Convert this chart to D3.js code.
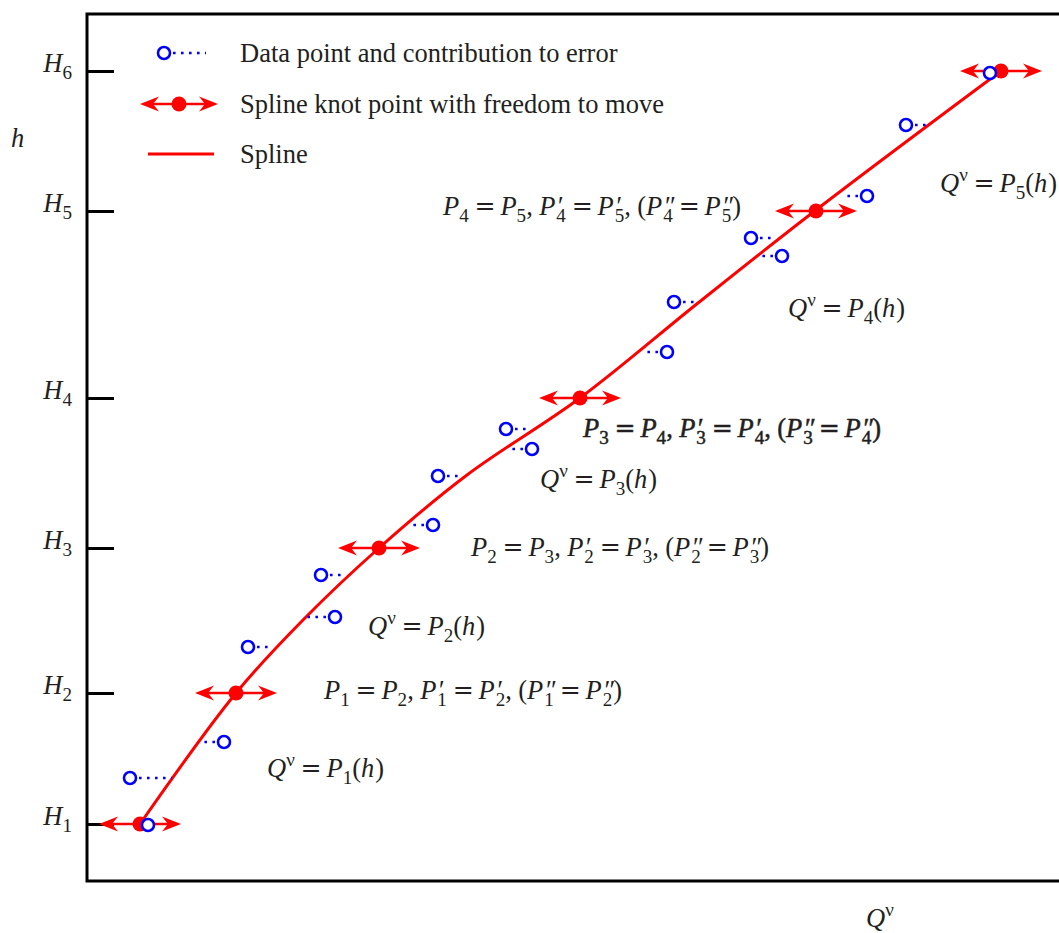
<!DOCTYPE html>
<html>
<head>
<meta charset="utf-8">
<script src="https://cdn.jsdelivr.net/npm/d3@7"></script>
<style>
  body { margin: 0; background: #fff; }
  svg { display: block; }
  text { font-family: "Liberation Serif", "Times New Roman", serif; fill: #231f20; }
</style>
</head>
<body>
<div class="container"></div>
<script>
// level marks on the h axis
const hLevels = [57, 188, 333, 483, 670, 810];
const hLabels = ['H_1', 'H_2', 'H_3', 'H_4', 'H_5', 'H_6'];

// spline knots (Q at each level)
const knotQ = [53, 149, 292, 493, 729, 914];

// measured data points and the spline value at the same h
const dataQ = [43, 61, 137, 161, 248, 234, 346, 351, 445, 419, 580, 587, 695, 664, 780, 819, 903];
const dataH = [103, 56, 139, 234, 264, 306, 356, 405, 432, 452, 529, 579, 625, 643, 685, 756, 808];
const fitQ = [85, 53, 113, 186, 216, 258, 323, 376, 423, 443, 558, 610, 673, 688, 758, 843, 914];

// spline trace
const splineQ = [53, 149, 216, 292, 380, 493, 611, 729, 914];
const splineH = [57, 188, 261, 333, 406, 483, 578, 671, 810];

const legendLabels = [
  'Data point and contribution to error',
  'Spline knot point with freedom to move',
  'Spline'
];

const segmentLabels = [
  'Q^ν = P_1(h)', 'Q^ν = P_2(h)', 'Q^ν = P_3(h)', 'Q^ν = P_4(h)', 'Q^ν = P_5(h)'
];
const joinLabels = [
  "P_1 = P_2, P'_1 = P'_2, (P''_1 = P''_2)",
  "P_2 = P_3, P'_2 = P'_3, (P''_2 = P''_3)",
  "P_3 = P_4, P'_3 = P'_4, (P''_3 = P''_4)",
  "P_4 = P_5, P'_4 = P'_5, (P''_4 = P''_5)"
];

const width = 1059;
const height = 933;
const fontSize = 26.5;
const red = '#ff0000';
const blue = '#0000ff';

const svg = d3.select('.container').append('svg').attr('width', width).attr('height', height);

const x = d3.scaleLinear().domain([0, 972]).range([87, 1059]);
const y = d3.scaleLinear().domain([0, 867]).range([881, 14]);

// tiny math typesetter: italic letters, sub/superscripts, primes
const parseMath = s => {
  const out = [];
  let i = 0;
  while (i < s.length) {
    const c = s[i];
    if (c === '_') {
      const prev = out[out.length - 1];
      out.push({ t: s[i + 1], k: prev && prev.k === 'prime' ? 'subp' : 'sub' });
      i += 2;
    } else if (c === '^') {
      out.push({ t: s[i + 1], k: 'sup' });
      i += 2;
    } else if (c === "'") {
      let n = 0;
      while (s[i] === "'") { n++; i++; }
      out.push({ t: n === 2 ? '″' : '′', k: 'prime' });
    } else if (c === '=') {
      out.push({ t: '=', k: 'eq' });
      i++;
    } else if (c === ' ') {
      i++;
    } else if (c === ',') {
      out.push({ t: ',', k: 'comma' });
      i++;
    } else if (/[A-Za-z]/.test(c)) {
      out.push({ t: c, k: 'i' });
      i++;
    } else {
      out.push({ t: c, k: 'r' });
      i++;
    }
  }
  return out;
};

const drawMath = (text, str, size) => {
  let shift = 0;
  let gap = 0;
  let prevWidth = 0;
  parseMath(str).forEach(tok => {
    let target = 0;
    let fs = size;
    let style = 'normal';
    let family = null;
    let dx = gap;
    let after = 0;
    if (tok.k === 'i') style = 'italic';
    if (tok.k === 'sub') { target = 0.28 * size; fs = 0.72 * size; }
    if (tok.k === 'subp') { target = 0.28 * size; fs = 0.72 * size; dx = -prevWidth; }
    if (tok.k === 'sup') { target = -0.4 * size; fs = 0.72 * size; }
    if (tok.k === 'prime') { style = 'italic'; dx = gap + 1; }
    if (tok.k === 'eq') { family = 'DejaVu Serif'; fs = size * 0.95; dx = gap + 0.22 * size; after = 0.18 * size; }
    if (tok.k === 'comma') after = 0.24 * size;
    if (tok.k === 'r' && tok.t === ')') dx = gap + 1;
    const span = text.append('tspan')
      .attr('dx', dx)
      .attr('dy', target - shift)
      .attr('font-size', fs)
      .attr('font-style', style)
      .text(tok.t);
    if (family) span.attr('font-family', family);
    shift = target;
    gap = after;
    prevWidth = span.node().getComputedTextLength();
  });
};

// frame
svg.append('rect')
  .attr('x', x(0)).attr('y', y(867))
  .attr('width', width + 40 - x(0)).attr('height', y(0) - y(867))
  .attr('fill', 'none').attr('stroke', '#000').attr('stroke-width', 3);

// h axis with inward ticks
const axisGroup = svg.append('g').attr('transform', `translate(${x(0)},0)`);
axisGroup.call(d3.axisLeft(y).tickValues(hLevels).tickSize(-27).tickPadding(15).tickFormat(() => ''));
axisGroup.select('.domain').remove();
axisGroup.selectAll('.tick line').attr('stroke', '#000').attr('stroke-width', 3);
axisGroup.selectAll('.tick text')
  .attr('font-size', fontSize)
  .attr('font-family', '"Liberation Serif", serif')
  .attr('fill', '#231f20')
  .each(function (d, i) { drawMath(d3.select(this), hLabels[i], fontSize); });

// axis titles
drawMath(svg.append('text').attr('x', 11).attr('y', 147).attr('font-size', fontSize), 'h', fontSize);
drawMath(svg.append('text').attr('x', 866).attr('y', 927).attr('font-size', fontSize), 'Q^ν', fontSize);

// spline
const line = d3.line().x(d => x(d[0])).y(d => y(d[1])).curve(d3.curveCatmullRom.alpha(0.5));
svg.append('path')
  .datum(splineQ.map((q, i) => [q, splineH[i]]))
  .attr('d', line)
  .attr('fill', 'none')
  .attr('stroke', red)
  .attr('stroke-width', 3);

// error contributions
const errorLine = (g, x1, x2, yy) => {
  const dir = x2 > x1 ? 1 : -1;
  g.append('line')
    .attr('x1', x1 + dir * 9).attr('x2', x2)
    .attr('y1', yy).attr('y2', yy)
    .attr('stroke', blue).attr('stroke-width', 2.6)
    .attr('stroke-dasharray', '2.6,5.4');
};
const errors = svg.append('g');
dataQ.forEach((q, i) => errorLine(errors, x(q), x(fitQ[i]), y(dataH[i])));

// knot marker with double arrow
const arrowHead = (g, tip, yy, dir) => {
  g.append('path')
    .attr('d', `M${tip},${yy} L${tip - dir * 19},${yy - 7.5} L${tip - dir * 13},${yy} L${tip - dir * 19},${yy + 7.5} Z`)
    .attr('fill', red);
};
const knotMarker = (g, cx, cy, half) => {
  g.append('line')
    .attr('x1', cx - half + 6).attr('x2', cx + half - 6)
    .attr('y1', cy).attr('y2', cy)
    .attr('stroke', red).attr('stroke-width', 2.6);
  arrowHead(g, cx - half, cy, -1);
  arrowHead(g, cx + half, cy, 1);
  g.append('circle').attr('cx', cx).attr('cy', cy).attr('r', 7.5).attr('fill', red);
};
const knots = svg.append('g');
knotQ.forEach((q, i) => knotMarker(knots, x(q), y(hLevels[i]), 41));

// data points
svg.append('g')
  .selectAll('circle')
  .data(dataQ)
  .join('circle')
  .attr('cx', d => x(d))
  .attr('cy', (d, i) => y(dataH[i]))
  .attr('r', 6)
  .attr('fill', '#fff')
  .attr('stroke', blue)
  .attr('stroke-width', 2.6);

// annotations: [label, Q, h]
const notes = [
  [segmentLabels[0], 180, 104], [segmentLabels[1], 281, 246], [segmentLabels[2], 453, 393],
  [segmentLabels[3], 701, 564], [segmentLabels[4], 853, 689],
  [joinLabels[0], 237, 182], [joinLabels[1], 384, 325], [joinLabels[2], 496, 444], [joinLabels[3], 356, 666]
];
notes.forEach(([label, q, h]) => {
  const t = svg.append('text').attr('x', x(q)).attr('y', y(h)).attr('font-size', fontSize);
  if (label === joinLabels[2]) t.attr('stroke', '#231f20').attr('stroke-width', 0.5);
  drawMath(t, label, fontSize);
});

// legend
const legend = svg.append('g');
const rows = [53, 104, 154];
legend.append('circle').attr('cx', 164).attr('cy', rows[0]).attr('r', 6)
  .attr('fill', '#fff').attr('stroke', blue).attr('stroke-width', 2.6);
legend.append('line').attr('x1', 173).attr('x2', 206).attr('y1', rows[0]).attr('y2', rows[0])
  .attr('stroke', blue).attr('stroke-width', 2.6).attr('stroke-dasharray', '2.6,5.4');
knotMarker(legend, 179, rows[1], 39);
legend.append('line').attr('x1', 148).attr('x2', 214).attr('y1', rows[2]).attr('y2', rows[2])
  .attr('stroke', red).attr('stroke-width', 3);
legend.selectAll('text.label')
  .data(legendLabels)
  .join('text')
  .attr('class', 'label')
  .attr('x', 240)
  .attr('y', (d, i) => rows[i] + 9)
  .attr('font-size', fontSize)
  .text(d => d);
</script>
</body>
</html>
